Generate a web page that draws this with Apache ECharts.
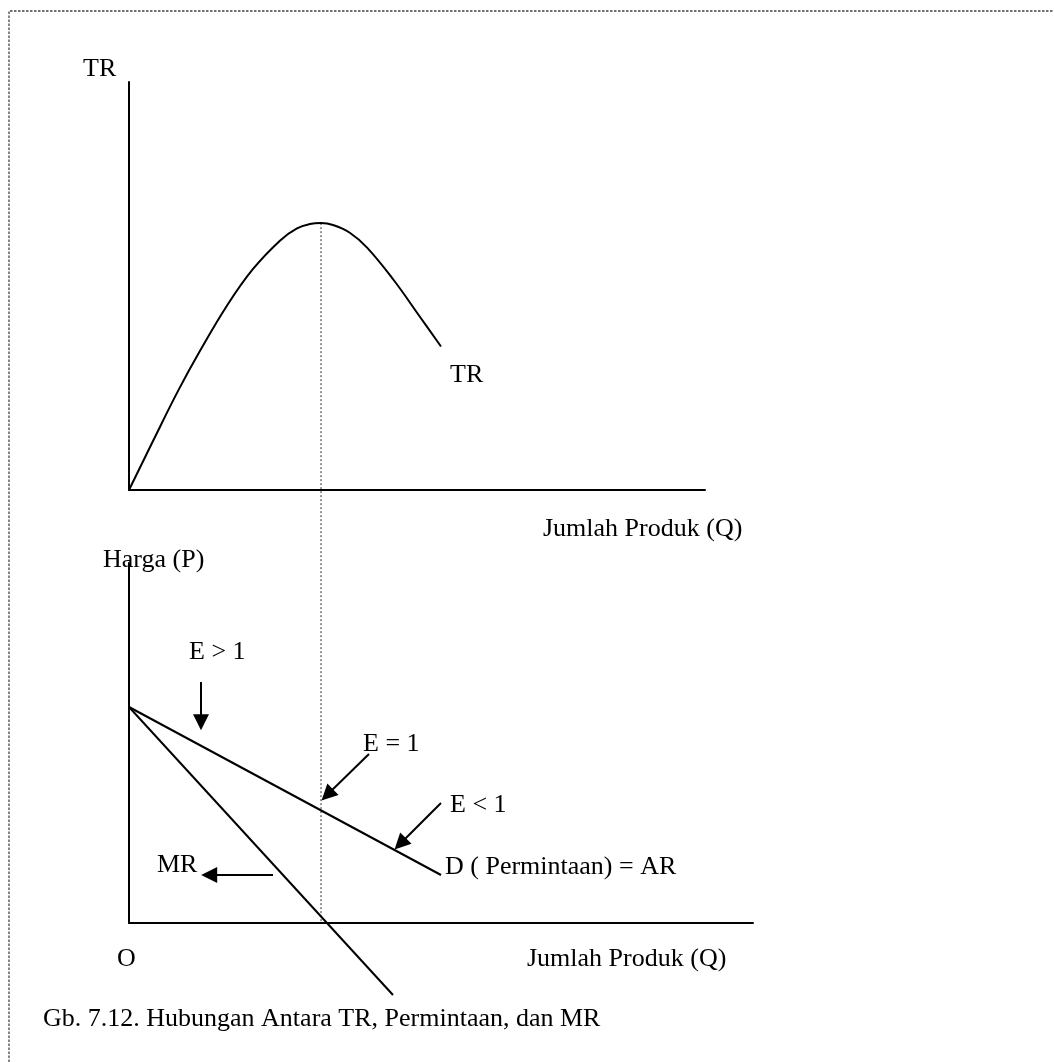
<!DOCTYPE html>
<html>
<head>
<meta charset="utf-8">
<script src="https://cdn.jsdelivr.net/npm/echarts@6/dist/echarts.min.js"></script>
<style>
  html, body { margin: 0; padding: 0; background: #fff; }
  #chart { width: 1054px; height: 1062px; }
</style>
</head>
<body>
<div id="chart"></div>
<script>
// Total revenue against quantity (Q, TR)
const trCurve = [
  [0, 0], [0.5, 1.02], [1.03, 2.08], [1.48, 2.9], [2.04, 3.84], [2.58, 4.6],
  [3.15, 5.2], [3.5, 5.45], [3.77, 5.54], [4.0, 5.56], [4.25, 5.52], [4.6, 5.36],
  [4.96, 5.05], [5.51, 4.38], [6.06, 3.61], [6.5, 2.99]
];
// Demand (= average revenue) and marginal revenue, (Q, P)
const demandLine = [[0, 4.5], [6.5, 1.0]];
const mrLine = [[0, 4.5], [5.5, -1.5]];
// Quantity where TR peaks and elasticity equals one
const unitElasticQ = 4;
const peakTR = 5.56;
// Annotation arrows on the lower panel: [from, to]
const arrowE_gt1 = [[1.5, 5.02], [1.5, 4.18]];
const arrowE_eq1 = [[5.0, 3.52], [4.13, 2.67]];
const arrowE_lt1 = [[6.5, 2.5], [5.65, 1.65]];
const arrowMR = [[3.0, 1.0], [1.67, 1.0]];
// Texts
const labelTR = 'TR';
const labelQ = 'Jumlah Produk (Q)';
const labelP = 'Harga (P)';
const labelEgt1 = 'E > 1';
const labelEeq1 = 'E = 1';
const labelElt1 = 'E < 1';
const labelD = 'D ( Permintaan) = AR';
const labelMR = 'MR';
const labelO = 'O';
const caption = 'Gb. 7.12. Hubungan Antara TR, Permintaan, dan MR';

const FONT = '26px "Liberation Serif", "Times New Roman", serif';
const chart = echarts.init(document.getElementById('chart'), null, { renderer: 'canvas' });

function axisCommon(min, max, gridIndex) {
  return {
    type: 'value', min: min, max: max, gridIndex: gridIndex,
    axisLine: { show: true, onZero: false, lineStyle: { color: '#000', width: 2 } },
    axisTick: { show: false }, axisLabel: { show: false }, splitLine: { show: false }
  };
}

function text(id, str, x, y) {
  return {
    id: id, type: 'text', x: x, y: y, z: 10,
    style: { text: str, font: FONT, fill: '#000', verticalAlign: 'middle', align: 'left' }
  };
}

function arrowSeries(coords) {
  return {
    type: 'lines', coordinateSystem: 'cartesian2d', xAxisIndex: 1, yAxisIndex: 1,
    symbol: ['none', 'triangle'], symbolSize: 16, silent: true,
    lineStyle: { color: '#000', width: 2, opacity: 1 },
    itemStyle: { color: '#000' },
    data: [{ coords: coords }]
  };
}

const lineStyleBlack = { color: '#000', width: 2 };

chart.setOption({
  animation: false,
  backgroundColor: '#fff',
  grid: [
    { left: 129, top: 82, width: 576, height: 408 },
    { left: 129, top: 563, width: 624, height: 360 }
  ],
  xAxis: [axisCommon(0, 12, 0), axisCommon(0, 13, 1)],
  yAxis: [axisCommon(0, 8.5, 0), axisCommon(0, 7.5, 1)],
  series: [
    {
      type: 'line', xAxisIndex: 0, yAxisIndex: 0, data: trCurve, smooth: 0.4,
      showSymbol: false, lineStyle: lineStyleBlack, silent: true
    },
    {
      type: 'line', xAxisIndex: 1, yAxisIndex: 1, data: demandLine,
      showSymbol: false, lineStyle: lineStyleBlack, silent: true
    },
    {
      type: 'line', xAxisIndex: 1, yAxisIndex: 1, data: mrLine, clip: false,
      showSymbol: false, lineStyle: lineStyleBlack, silent: true
    },
    arrowSeries(arrowE_gt1),
    arrowSeries(arrowE_eq1),
    arrowSeries(arrowE_lt1),
    arrowSeries(arrowMR)
  ],
  graphic: [
    {
      id: 'frame', type: 'polyline', silent: true,
      shape: { points: [[9, 1062], [9, 11], [1054, 11]] },
      style: { stroke: '#444', lineWidth: 1.3, lineDash: [2.5, 1.5], fill: null }
    },
    text('tTR', labelTR, 83, 69),
    text('tTRc', labelTR, 450, 375),
    text('tQ1', labelQ, 543, 529),
    text('tP', labelP, 103, 560),
    text('tE1', labelEgt1, 189, 652),
    text('tE2', labelEeq1, 363, 744),
    text('tE3', labelElt1, 450, 805),
    text('tD', labelD, 445, 867),
    text('tMR', labelMR, 157, 865),
    text('tO', labelO, 117, 959),
    text('tQ2', labelQ, 527, 959),
    text('tCap', caption, 43, 1019)
  ]
});

// Dotted guide from the TR peak down through the lower panel's quantity axis
const pTop = chart.convertToPixel({ gridIndex: 0 }, [unitElasticQ, peakTR]);
const pBot = chart.convertToPixel({ gridIndex: 1 }, [unitElasticQ, 0]);
chart.setOption({
  graphic: [{
    id: 'qline', type: 'line', silent: true, z: 1,
    shape: { x1: pTop[0], y1: pTop[1], x2: pBot[0], y2: pBot[1] },
    style: { stroke: '#333', lineWidth: 1, lineDash: [2, 2] }
  }]
});
</script>
</body>
</html>
